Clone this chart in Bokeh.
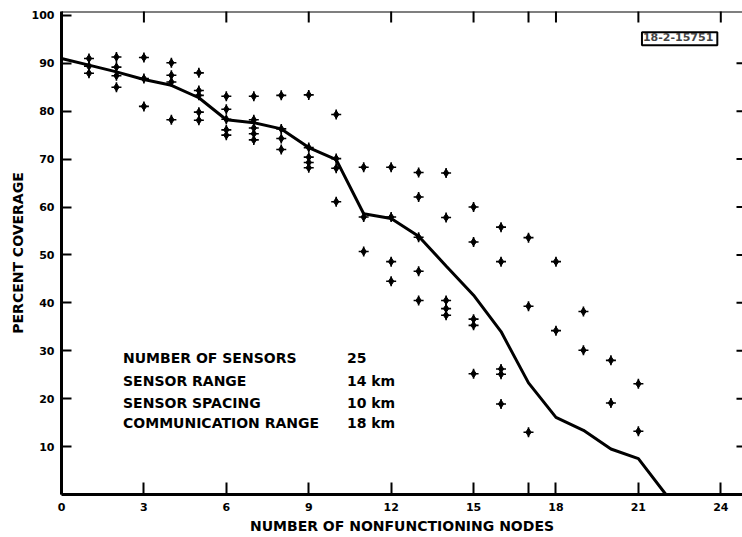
import math
from bokeh.plotting import figure
from bokeh.models import FixedTicker, Range1d, Label, ColumnDataSource, Span
from bokeh.core.properties import value
from bokeh.embed import file_html
from bokeh.resources import INLINE

# ---- data ----
line_x = list(range(23))
line_y = [91.0, 89.6, 88.2, 86.6, 85.4, 82.8, 78.2, 77.6, 76.3, 72.4, 69.9,
          58.6, 57.6, 53.9, 47.7, 41.6, 34.0, 23.3, 16.1, 13.4, 9.5, 7.5, 0.0]

pts_x = ([1] * 3 + [2] * 4 + [3] * 3 + [4] * 4 + [5] * 5 + [6] * 5 + [7] * 5 +
         [8] * 4 + [9] * 5 + [10] * 4 + [11] * 3 + [12] * 4 + [13] * 5 + [14] * 5 +
         [15] * 5 + [16] * 5 + [17] * 3 + [18] * 2 + [19] * 2 + [20] * 2 + [21] * 2)
pts_y = [91.0, 89.4, 87.9,
         91.3, 89.2, 87.4, 85.0,
         91.2, 86.8, 81.0,
         90.1, 87.5, 86.1, 78.2,
         88.0, 84.3, 83.3, 79.8, 78.1,
         83.1, 80.4, 78.3, 76.1, 75.0,
         83.1, 78.2, 76.5, 75.3, 74.0,
         83.3, 76.3, 74.3, 72.0,
         83.4, 72.4, 70.4, 69.3, 68.2,
         79.3, 70.1, 68.1, 61.1,
         68.3, 57.9, 50.7,
         68.3, 57.9, 48.6, 44.5,
         67.2, 62.1, 53.7, 46.6, 40.5,
         67.1, 57.8, 40.5, 38.8, 37.4,
         60.0, 52.7, 36.6, 35.3, 25.2,
         55.8, 48.6, 26.2, 25.1, 18.9,
         53.6, 39.3, 13.0,
         48.6, 34.2,
         38.2, 30.1,
         28.0, 19.1,
         23.1, 13.2]

x_ticks = [0, 3, 6, 9, 12, 15, 17, 18, 21, 24]
x_tick_labels = {17: ""}
y_ticks = [10, 20, 30, 40, 50, 60, 70, 80, 90, 100]
right_ticks = [10, 20, 30, 40, 50, 60, 70, 80, 90]

param_names = ["NUMBER OF SENSORS", "SENSOR RANGE", "SENSOR SPACING", "COMMUNICATION  RANGE"]
param_values = ["25", "14 km", "10 km", "18 km"]
param_y = [28.4, 23.7, 19.1, 14.9]
param_name_x = 2.24
param_value_x = 10.39

X_END = 24.79
Y_END = 100.8
FONT = "DejaVu Sans"

p = figure(width=742, height=537, x_range=Range1d(0, X_END), y_range=Range1d(0, Y_END),
           output_backend="svg", toolbar_location=None,
           min_border_left=61, min_border_right=0, min_border_top=11, min_border_bottom=43)
p.grid.visible = False
p.outline_line_color = None
p.background_fill_color = "white"
p.border_fill_color = "white"

# bottom axis
xa = p.xaxis[0]
xa.ticker = FixedTicker(ticks=x_ticks)
xa.major_label_overrides = x_tick_labels
xa.major_tick_in = 12
xa.major_tick_out = 0
xa.minor_tick_line_color = None
xa.axis_line_width = 3
xa.axis_line_color = "black"
xa.major_tick_line_width = 2
xa.major_tick_line_color = "black"
xa.major_label_standoff = 8
xa.major_label_text_font = FONT
xa.major_label_text_font_style = "bold"
xa.major_label_text_font_size = "11px"
xa.major_label_text_color = "black"
xa.axis_label = "NUMBER OF NONFUNCTIONING NODES"
xa.axis_label_text_font = FONT
xa.axis_label_text_font_style = "bold"
xa.axis_label_text_font_size = "14px"
xa.axis_label_text_color = "black"
xa.axis_label_standoff = 4

# left axis
ya = p.yaxis[0]
ya.ticker = FixedTicker(ticks=y_ticks)
ya.major_tick_in = 10
ya.major_tick_out = 0
ya.minor_tick_line_color = None
ya.axis_line_width = 3
ya.axis_line_color = "black"
ya.major_tick_line_width = 2
ya.major_tick_line_color = "black"
ya.major_label_standoff = 7
ya.major_label_text_font = FONT
ya.major_label_text_font_style = "bold"
ya.major_label_text_font_size = "11px"
ya.major_label_text_color = "black"
ya.axis_label = "PERCENT COVERAGE"
ya.axis_label_text_font = FONT
ya.axis_label_text_font_style = "bold"
ya.axis_label_text_font_size = "14px"
ya.axis_label_text_color = "black"
ya.axis_label_standoff = 3

# top border and inward ticks on top / right edges
p.add_layout(Span(location=Y_END, dimension="width", line_color="black", line_width=2))
p.scatter(x=x_ticks, y=[Y_END] * len(x_ticks), marker="dash", size=22, angle=math.pi / 2,
          line_color="black", line_width=2)
p.scatter(x=[X_END] * len(right_ticks), y=right_ticks, marker="dash", size=12,
          line_color="black", line_width=2)

# mean curve
p.line(line_x, line_y, line_color="black", line_width=3)

# trials
src = ColumnDataSource(dict(x=pts_x, y=pts_y))
p.scatter("x", "y", source=src, marker="diamond", size=8, fill_color="black", line_color="black")
p.scatter("x", "y", source=src, marker="cross", size=10, line_color="black", line_width=1.6)

# parameter block
p.text(x=[param_name_x] * 4, y=param_y, text=param_names, text_font=value(FONT),
       text_font_style="bold", text_font_size="14px", text_baseline="middle", text_align="left",
       text_color="black")
p.text(x=[param_value_x] * 4, y=param_y, text=param_values, text_font=value(FONT),
       text_font_style="bold", text_font_size="14px", text_baseline="middle", text_align="left",
       text_color="black")

# figure id box
p.add_layout(Label(x=21.13, y=96.45, text="18-2-15751", text_font=FONT,
                   text_font_style="bold", text_font_size="11px", text_align="left",
                   text_baseline="top", anchor="top_left", border_line_color="black",
                   border_line_width=2, background_fill_color="white", padding=(1, 4, 1, 4)))

open("out.html", "w").write(file_html(p, INLINE))
